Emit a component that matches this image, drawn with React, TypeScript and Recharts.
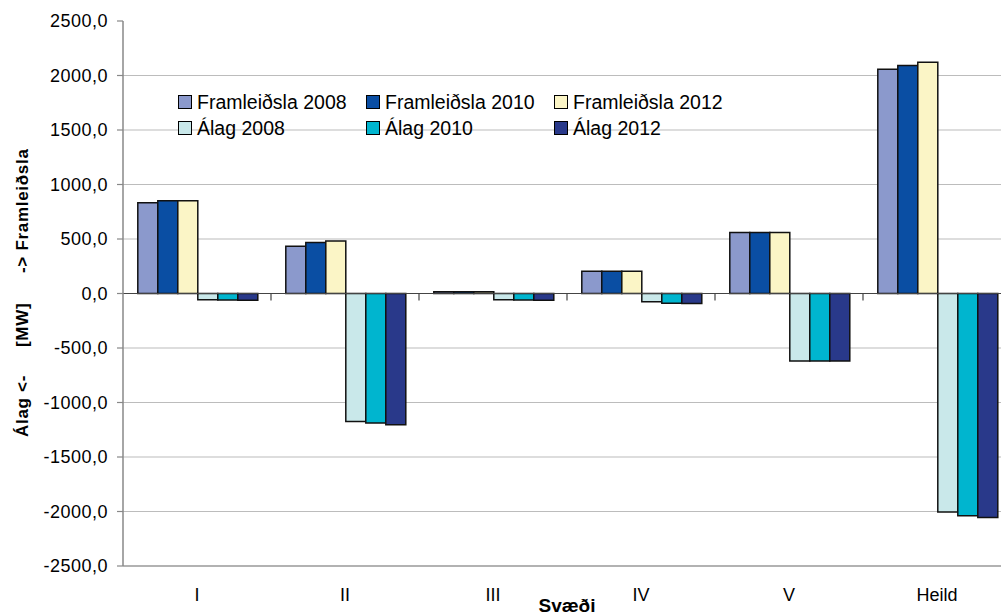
import React from 'react'
import {
  BarChart,
  Bar,
  XAxis,
  YAxis,
  CartesianGrid,
  Legend,
  ReferenceLine,
} from 'recharts'

// Svæði (regions) and values in MW
const regions = ['I', 'II', 'III', 'IV', 'V', 'Heild']
const framleidsla2008 = [833, 434, 15, 205, 560, 2058]
const framleidsla2010 = [850, 468, 15, 205, 560, 2092]
const framleidsla2012 = [850, 482, 15, 205, 560, 2122]
const alag2008 = [-57, -1175, -57, -75, -620, -2005]
const alag2010 = [-60, -1187, -60, -90, -620, -2040]
const alag2012 = [-62, -1205, -62, -92, -620, -2055]
const yTicks = [-2500, -2000, -1500, -1000, -500, 0, 500, 1000, 1500, 2000, 2500]
const gridValues = [-2000, -1500, -1000, -500, 0, 500, 1000, 1500, 2000]

const series = [
  { key: 'f2008', name: 'Framleiðsla 2008', color: '#8b99cc', values: framleidsla2008 },
  { key: 'f2010', name: 'Framleiðsla 2010', color: '#0a4ea3', values: framleidsla2010 },
  { key: 'f2012', name: 'Framleiðsla 2012', color: '#fbf5c6', values: framleidsla2012 },
  { key: 'a2008', name: 'Álag 2008', color: '#c9e8ea', values: alag2008 },
  { key: 'a2010', name: 'Álag 2010', color: '#00b5cf', values: alag2010 },
  { key: 'a2012', name: 'Álag 2012', color: '#29398a', values: alag2012 },
]

const data = regions.map((name, i) => {
  const row: Record<string, string | number> = { name }
  series.forEach((s) => {
    row[s.key] = s.values[i]
  })
  return row
})

const FONT = '"Liberation Sans", Arial, sans-serif'

const formatTick = (v: number) => v.toFixed(1).replace('.', ',')

function LegendGrid({ payload }: any) {
  return (
    <div
      style={{
        display: 'grid',
        gridTemplateColumns: 'repeat(3, 188px)',
        gridAutoRows: '26px',
        fontFamily: FONT,
        fontSize: 19.5,
        color: '#000',
      }}
    >
      {(payload || []).map((entry: any) => (
        <div key={entry.value} style={{ display: 'flex', alignItems: 'center', whiteSpace: 'nowrap' }}>
          <span
            style={{
              width: 14,
              height: 14,
              boxSizing: 'border-box',
              border: '1px solid #000',
              background: entry.color,
              marginRight: 5,
              display: 'inline-block',
            }}
          />
          {entry.value}
        </div>
      ))}
    </div>
  )
}

function YTitle({ viewBox }: any) {
  const cy = viewBox.y + viewBox.height / 2
  const bx = 28
  const style = { fontFamily: FONT, fontSize: 17, fontWeight: 700, letterSpacing: 0.7, fill: '#000' }
  const parts = [
    { text: 'Álag <-', start: cy + 143.5 },
    { text: '[MW]', start: cy + 53.5 },
    { text: '-> Framleiðsla', start: cy - 20.5 },
  ]
  return (
    <g>
      {parts.map((p) => (
        <text key={p.text} transform={`translate(${bx},${p.start}) rotate(-90)`} textAnchor="start" style={style}>
          {p.text}
        </text>
      ))}
    </g>
  )
}

function XTitle({ viewBox }: any) {
  return (
    <text
      x={viewBox.x + viewBox.width / 2}
      y={viewBox.y + 46}
      textAnchor="middle"
      style={{ fontFamily: FONT, fontSize: 19, fontWeight: 700, fill: '#000' }}
    >
      Svæði
    </text>
  )
}

// zero line with the category boundary ticks hanging below it
function ZeroLine(props: any) {
  const { x1, y1, x2 } = props
  const step = (x2 - x1) / regions.length
  return (
    <g>
      <line x1={x1 - 6} y1={y1} x2={x2} y2={y1} stroke="#444" strokeWidth={1.2} />
      {regions.slice(1).map((r, i) => {
        const x = x1 + step * (i + 1)
        return <line key={r} x1={x} y1={y1} x2={x} y2={y1 + 7} stroke="#444" strokeWidth={1.2} />
      })}
    </g>
  )
}

export default function App() {
  return (
    <div
      style={{
        position: 'absolute',
        left: 0,
        top: 0,
        width: 1001,
        height: 615,
        overflow: 'hidden',
        background: '#fff',
        fontFamily: FONT,
      }}
    >
      <BarChart
        width={1020}
        height={615}
        data={data}
        margin={{ top: 21, right: 9, bottom: 0, left: 0 }}
        barGap={0}
        barCategoryGap="10%"
      >
        <CartesianGrid vertical={false} horizontalValues={gridValues} stroke="#bcbcbc" strokeWidth={1.2} />
        <XAxis
          dataKey="name"
          height={49}
          axisLine={{ stroke: '#999', strokeWidth: 1.5 }}
          tickLine={false}
          tickSize={0}
          tickMargin={22}
          tick={{ fill: '#000', fontSize: 18, fontFamily: FONT }}
          interval={0}
          label={XTitle}
        />
        <YAxis
          width={123}
          domain={[-2500, 2500]}
          ticks={yTicks}
          tickFormatter={formatTick}
          axisLine={{ stroke: '#888', strokeWidth: 1.5 }}
          tickLine={{ stroke: '#888', strokeWidth: 1.2 }}
          tickSize={6}
          tickMargin={9}
          tick={{ fill: '#000', fontSize: 18, fontFamily: FONT, letterSpacing: 0.5 }}
          label={YTitle}
        />
        <Legend
          layout="horizontal"
          verticalAlign="middle"
          align="center"
          wrapperStyle={{ top: 89, left: 178, width: 600 }}
          content={LegendGrid}
        />
        {series.map((s) => (
          <Bar
            key={s.key}
            dataKey={s.key}
            name={s.name}
            fill={s.color}
            stroke="#111"
            strokeWidth={1.5}
            isAnimationActive={false}
          />
        ))}
        <ReferenceLine y={0} shape={ZeroLine} />
      </BarChart>
    </div>
  )
}
